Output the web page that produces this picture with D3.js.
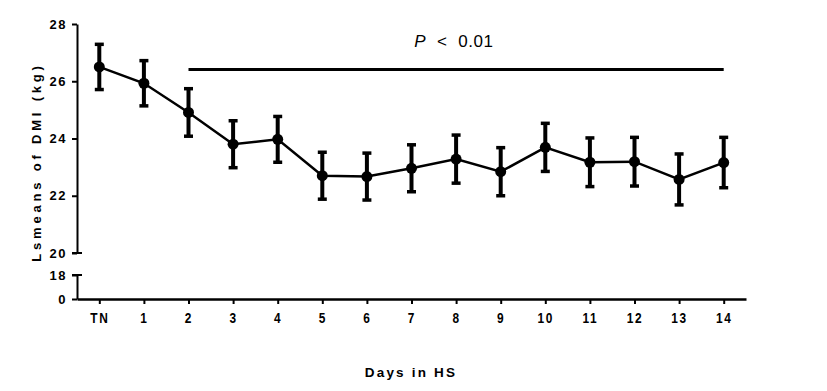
<!DOCTYPE html>
<html><head><meta charset="utf-8">
<script src="https://cdn.jsdelivr.net/npm/d3@7"></script>
<style>
body{margin:0;background:#fff;}
text{font-family:"Liberation Sans",Arial,sans-serif;}
</style></head>
<body><svg id="c" width="827" height="391"></svg>
<script>
const categories = ["TN","1","2","3","4","5","6","7","8","9","10","11","12","13","14"];
const means = [26.50,25.93,24.91,23.80,23.97,22.70,22.67,22.96,23.28,22.84,23.69,23.17,23.19,22.57,23.16];
const sems  = [0.79,0.79,0.83,0.82,0.80,0.82,0.82,0.82,0.84,0.84,0.84,0.85,0.85,0.89,0.88];
const yTicksUpper = [20,22,24,26,28];
const yTicksLower = [0,18];
const sigFrom = "2", sigTo = "14", sigLabel = "< 0.01";

const svg = d3.select("#c");
const x = d3.scalePoint().domain(categories).range([77,746]).padding(0.5);
const yU = d3.scaleLinear().domain([20,28]).range([253,24]);
const yL = d3.scaleLinear().domain([0,18]).range([299,275]);
const axX = 77;

const gU = svg.append("g").attr("transform",`translate(${axX},0)`)
  .call(d3.axisLeft(yU).tickValues(yTicksUpper).tickSize(5).tickSizeOuter(0).tickPadding(5));
const gL = svg.append("g").attr("transform",`translate(${axX},0)`)
  .call(d3.axisLeft(yL).tickValues(yTicksLower).tickSize(5).tickSizeOuter(0).tickPadding(5));
[gU,gL].forEach(g=>{
  g.select(".domain").attr("stroke","#000").attr("stroke-width",2);
  g.selectAll(".tick line").attr("stroke","#000").attr("stroke-width",2);
  g.selectAll(".tick text").attr("font-size",13).attr("font-weight","bold").attr("fill","#000")
   .attr("letter-spacing","1.5px");
});
svg.append("line").attr("x1",axX-5).attr("x2",axX+5).attr("y1",yU(20)).attr("y2",yU(20)).attr("stroke","#000").attr("stroke-width",2);
svg.append("line").attr("x1",axX-5).attr("x2",axX+5).attr("y1",yL(18)).attr("y2",yL(18)).attr("stroke","#000").attr("stroke-width",2);

const gx = svg.append("g").attr("transform",`translate(0,${yL(0)})`)
  .call(d3.axisBottom(x).tickSize(5).tickSizeOuter(0).tickPadding(9));
gx.select(".domain").attr("stroke","#000").attr("stroke-width",2.5);
gx.selectAll(".tick line").attr("stroke","#000").attr("stroke-width",2);
gx.selectAll(".tick text").attr("font-size",14).attr("font-weight","bold").attr("fill","#000")
  .attr("letter-spacing","2px").attr("transform","scale(0.85,1)").attr("x",0);

const eb = svg.append("g");
categories.forEach((c,i)=>{
  const cx = x(c), t = yU(means[i]+sems[i]), b = yU(means[i]-sems[i]);
  eb.append("line").attr("x1",cx).attr("x2",cx).attr("y1",t).attr("y2",b).attr("stroke","#000").attr("stroke-width",4);
  [t,b].forEach(yy=>eb.append("line").attr("x1",cx-4.5).attr("x2",cx+4.5).attr("y1",yy).attr("y2",yy).attr("stroke","#000").attr("stroke-width",3.5));
});
svg.append("path").datum(means)
  .attr("d", d3.line().x((d,i)=>x(categories[i])).y(d=>yU(d)))
  .attr("fill","none").attr("stroke","#000").attr("stroke-width",2.5);
svg.append("g").selectAll("circle").data(means).join("circle")
  .attr("cx",(d,i)=>x(categories[i])).attr("cy",d=>yU(d)).attr("r",5.5).attr("fill","#000");

svg.append("line").attr("x1",x(sigFrom)).attr("x2",x(sigTo)).attr("y1",69.5).attr("y2",69.5)
  .attr("stroke","#000").attr("stroke-width",3);
const pt = svg.append("text").attr("x",454).attr("y",47).attr("text-anchor","middle").attr("font-size",17)
  .attr("letter-spacing","0.6px").attr("fill","#000").attr("style","white-space:pre");
pt.append("tspan").attr("font-style","italic").text("P");
pt.append("tspan").text("  " + sigLabel.replace(" ","  "));

svg.append("text").attr("x",411).attr("y",377).attr("text-anchor","middle").attr("font-size",13.5)
  .attr("font-weight","bold").attr("letter-spacing","2.2px").text("Days in HS");
svg.append("text").attr("transform","translate(41,162) rotate(-90)").attr("text-anchor","middle")
  .attr("font-size",13).attr("font-weight","bold").attr("letter-spacing","3.8px").text("Lsmeans of DMI (kg)");
</script></body></html>
